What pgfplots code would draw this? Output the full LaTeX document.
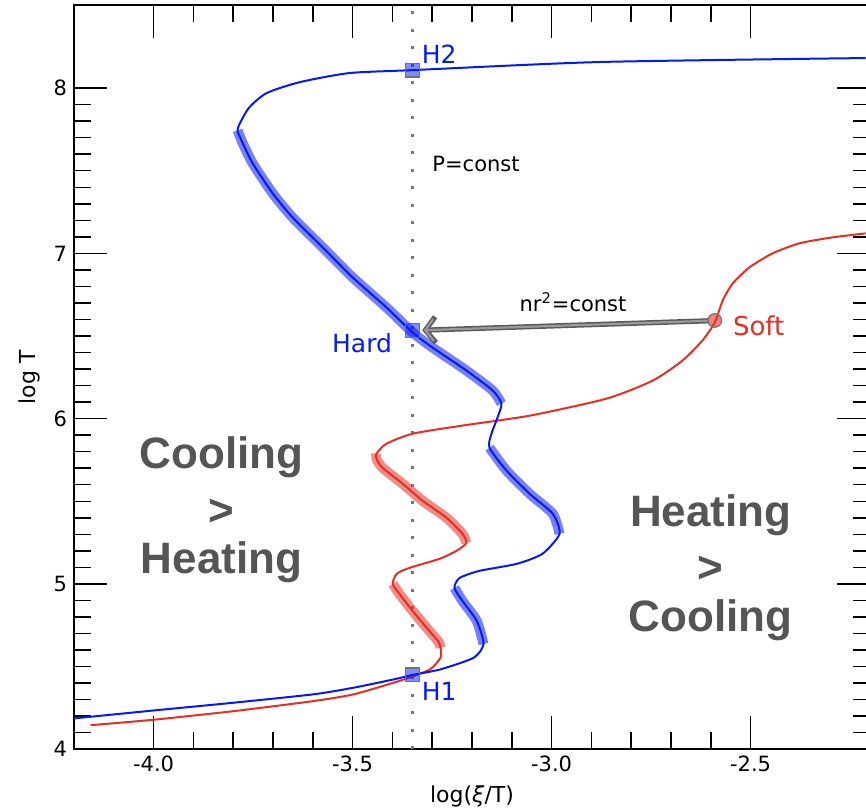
\documentclass[border=0pt]{standalone}
\usepackage{fontspec}
\setmainfont{DejaVu Sans}
\newfontfamily\helv{Liberation Sans}
\usepackage{pgfplots}
\pgfplotsset{compat=1.18}
\usetikzlibrary{arrows.meta}
\definecolor{cblue}{RGB}{5,25,245}
\definecolor{cred}{RGB}{232,45,35}
\definecolor{bigtxt}{RGB}{85,85,85}
\definecolor{dotgray}{RGB}{120,120,120}

\begin{document}
\begin{tikzpicture}
\begin{axis}[name=ax, scale only axis, width=398.2pt, height=372pt,
  xmin=-4.2, xmax=-2.2, ymin=4, ymax=8.5, clip=false,
  xtick={-4,-3.5,-3,-2.5}, ytick={4,5,6,7,8},
  minor x tick num=4, minor y tick num=9,
  tick align=inside, major tick length=16.5pt, minor tick length=8.5pt,
  every tick/.style={black, line width=0.75pt},
  axis line style={line width=1pt},
  /pgf/number format/assume math mode=true,
  xticklabel style={/pgf/number format/.cd, fixed, fixed zerofill, precision=1},
  tick label style={font=\fontsize{10.5}{12}\selectfont},
  xlabel={log(\textit{ξ}/T)}, ylabel={log T},
  label style={font=\fontsize{11}{13}\selectfont},
]
% vertical dotted P=const line
\addplot[dotgray, line width=1.5pt, dash pattern=on 1.5pt off 7.25pt] coordinates {(-3.35,4) (-3.35,8.5)};

% unstable-branch bands
\addplot[cblue, opacity=0.55, line width=5pt, smooth, tension=0.4] coordinates {
(-3.171,4.636) (-3.188,4.776) (-3.224,4.897) (-3.244,4.976)};
\addplot[cblue, opacity=0.55, line width=5pt, smooth, tension=0.4] coordinates {
(-2.980,5.303) (-2.997,5.424) (-3.055,5.545) (-3.113,5.685) (-3.156,5.824)};
\addplot[cblue, opacity=0.55, line width=5pt, smooth, tension=0.4] coordinates {
(-3.126,6.091) (-3.148,6.170) (-3.214,6.291) (-3.299,6.430) (-3.349,6.521) (-3.415,6.673) (-3.500,6.855) (-3.575,7.036) (-3.651,7.218) (-3.701,7.364) (-3.751,7.545) (-3.776,7.667) (-3.789,7.745)};
\addplot[cred, opacity=0.55, line width=5pt, smooth, tension=0.4] coordinates {
(-3.279,4.614) (-3.284,4.650) (-3.307,4.715) (-3.349,4.836) (-3.382,4.939) (-3.399,5.000)};
\addplot[cred, opacity=0.55, line width=5pt, smooth, tension=0.4] coordinates {
(-3.214,5.248) (-3.224,5.303) (-3.264,5.400) (-3.324,5.503) (-3.374,5.606) (-3.425,5.703) (-3.440,5.758) (-3.440,5.788)};

% red curve (soft)
\addplot[cred, line width=1pt, smooth, tension=0.4] coordinates {
(-4.158,4.145) (-4.0,4.178) (-3.799,4.230) (-3.598,4.291) (-3.497,4.332) (-3.397,4.402) (-3.347,4.442) (-3.304,4.485) (-3.279,4.553) (-3.279,4.614) (-3.284,4.650) (-3.307,4.715) (-3.349,4.836) (-3.382,4.939) (-3.399,5.000) (-3.389,5.061) (-3.357,5.097) (-3.281,5.152) (-3.239,5.200) (-3.214,5.248) (-3.224,5.303) (-3.264,5.400) (-3.324,5.503) (-3.374,5.606) (-3.425,5.703) (-3.440,5.758) (-3.440,5.788) (-3.415,5.848) (-3.349,5.909) (-3.224,5.958) (-3.055,6.018) (-2.862,6.121) (-2.746,6.230) (-2.671,6.352) (-2.621,6.473) (-2.590,6.582) (-2.570,6.715) (-2.545,6.818) (-2.503,6.915) (-2.445,7.000) (-2.377,7.061) (-2.294,7.097) (-2.211,7.121)};

% blue curve (hard)
\addplot[cblue, line width=1pt, smooth, tension=0.4] coordinates {
(-4.2,4.186) (-4.0,4.234) (-3.799,4.281) (-3.598,4.332) (-3.497,4.372) (-3.397,4.422) (-3.347,4.450) (-3.279,4.483) (-3.196,4.553) (-3.171,4.636) (-3.188,4.776) (-3.224,4.897) (-3.244,4.976) (-3.231,5.036) (-3.181,5.079) (-3.088,5.121) (-3.023,5.182) (-2.980,5.303) (-2.997,5.424) (-3.055,5.545) (-3.113,5.685) (-3.156,5.824) (-3.151,5.909) (-3.136,6.006) (-3.126,6.091) (-3.148,6.170) (-3.214,6.291) (-3.299,6.430) (-3.349,6.521) (-3.415,6.673) (-3.500,6.855) (-3.575,7.036) (-3.651,7.218) (-3.701,7.364) (-3.751,7.545) (-3.776,7.667) (-3.789,7.745) (-3.779,7.806) (-3.759,7.885) (-3.716,7.970) (-3.633,8.036) (-3.508,8.091) (-3.349,8.109) (-2.879,8.158) (-2.211,8.182)};

% arrow nr^2 = const (dark outline, lighter core)
\addplot[draw=black!65, line width=2.6pt, -{Straight Barb[length=5pt, width=13pt]}] coordinates {(-2.605,6.592) (-3.325,6.535)};
\addplot[draw=gray!80, line width=1.1pt, -{Straight Barb[length=4.2pt, width=11pt]}] coordinates {(-2.607,6.592) (-3.321,6.535)};

% markers
\addplot[only marks, mark=square*, mark size=3.4pt, mark options={draw=black!55, fill=cblue, fill opacity=0.5, line width=0.6pt}] coordinates {(-3.349,4.450) (-3.349,6.533) (-3.349,8.109)};
\addplot[only marks, mark=*, mark size=3.4pt, mark options={draw=black!55, fill=cred, fill opacity=0.6, line width=0.6pt}] coordinates {(-2.590,6.594)};

% labels
\node[anchor=base west, font=\fontsize{10.5}{12}\selectfont] at (axis cs:-3.317,7.497) {P=const};
\node[anchor=base west, font=\fontsize{10.5}{12}\selectfont] at (axis cs:-3.098,6.646) {nr\textsuperscript{2}=const};
\node[anchor=base west, text=cblue, font=\fontsize{12.5}{14}\selectfont, inner sep=0pt] at (axis cs:-3.327,8.152) {H2};
\node[anchor=base east, text=cblue, font=\fontsize{12.5}{14}\selectfont, inner sep=0pt] at (axis cs:-3.40,6.40) {Hard};
\node[anchor=base west, text=cblue, font=\fontsize{12.5}{14}\selectfont, inner sep=0pt] at (axis cs:-3.327,4.297) {H1};
\node[anchor=base west, text=cred, font=\fontsize{13}{15}\selectfont, inner sep=0pt] at (axis cs:-2.545,6.503) {Soft};

\node[anchor=base, text=bigtxt, font=\helv\bfseries\fontsize{22}{26}\selectfont, inner sep=0pt] at (axis cs:-3.829,5.697) {Cooling};
\node[anchor=base, text=bigtxt, font=\helv\bfseries\fontsize{22}{26}\selectfont, inner sep=0pt] at (axis cs:-3.829,5.352) {>};
\node[anchor=base, text=bigtxt, font=\helv\bfseries\fontsize{22}{26}\selectfont, inner sep=0pt] at (axis cs:-3.829,5.061) {Heating};
\node[anchor=base, text=bigtxt, font=\helv\bfseries\fontsize{22}{26}\selectfont, inner sep=0pt] at (axis cs:-2.600,5.345) {Heating};
\node[anchor=base, text=bigtxt, font=\helv\bfseries\fontsize{22}{26}\selectfont, inner sep=0pt] at (axis cs:-2.600,5.006) {>};
\node[anchor=base, text=bigtxt, font=\helv\bfseries\fontsize{22}{26}\selectfont, inner sep=0pt] at (axis cs:-2.600,4.709) {Cooling};
\end{axis}
\pgfresetboundingbox
\useasboundingbox ([xshift=-37pt,yshift=-29.25pt]ax.south west) rectangle ([xshift=-2pt,yshift=2.75pt]ax.north east);
\end{tikzpicture}
\end{document}
